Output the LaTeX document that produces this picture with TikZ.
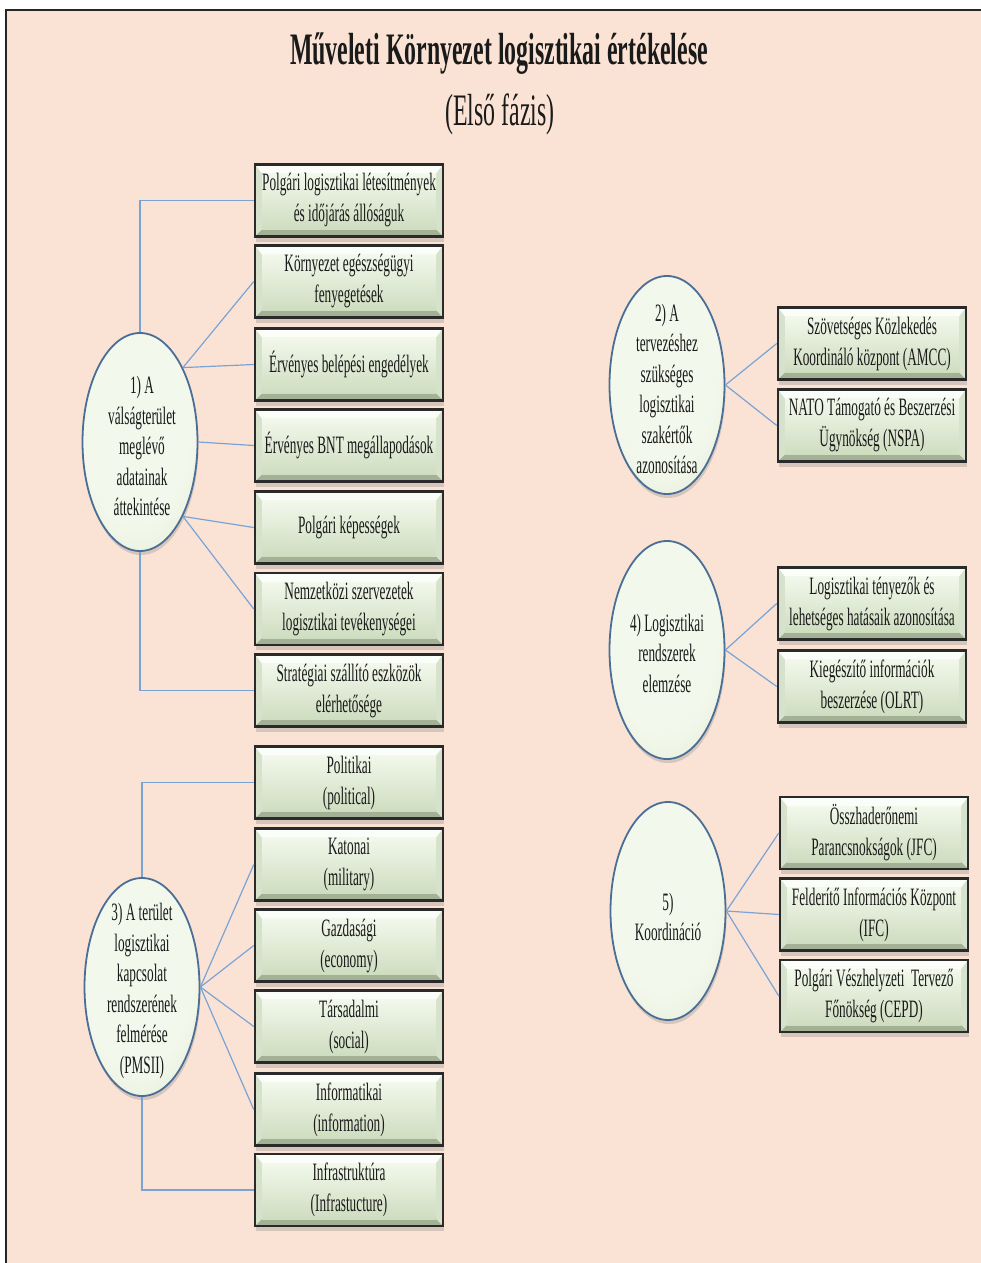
\documentclass[tikz,border=0pt]{standalone}
\usepackage{fontspec}
\setmainfont{Liberation Serif}[FakeStretch=0.53]
\usetikzlibrary{shapes.geometric, shadows, calc}
\definecolor{lgPeach}{HTML}{FAE3D5}
\definecolor{lgRim}{HTML}{2A2A2A}
\definecolor{lgBevLight}{HTML}{FBFDF8}
\definecolor{lgBevDark}{HTML}{A3B195}
\definecolor{lgBevSide}{HTML}{D6E2CB}
\definecolor{lgFaceTop}{HTML}{F2F8EB}
\definecolor{lgFaceBot}{HTML}{CEDDC0}
\definecolor{lgElIn}{HTML}{F3F8EC}
\definecolor{lgElMid}{HTML}{DDE9D0}
\definecolor{lgElOut}{HTML}{C3D5B0}
\definecolor{lgEdge}{HTML}{4A6E96}
\definecolor{lgLink}{HTML}{7AA3D5}
\definecolor{lgInk}{HTML}{1A1A1A}
\pgfdeclareradialshading{ellishade}{\pgfpoint{-4bp}{10bp}}{%
  color(0bp)=(lgElIn); color(24bp)=(lgElIn); color(42bp)=(lgElMid); color(52bp)=(lgElOut)}
\tikzset{
  pageframe/.style = {line width=2pt, black!85},
  ttl/.style       = {font=\bfseries\fontsize{45}{50}\selectfont, lgInk},
  subttl/.style    = {font=\fontsize{45}{50}\selectfont, lgInk},
  itembox/.style   = {rectangle, minimum width=188pt, minimum height=72pt, inner sep=0pt,
                      align=center, font=\fontsize{25}{31}\selectfont, text=lgInk,
                      fill=lgBevSide, draw=lgRim, line width=2.5pt,
                      drop shadow={shadow xshift=1pt, shadow yshift=-5pt, opacity=0.3},
                      path picture={
                        \coordinate (bnw) at (path picture bounding box.north west);
                        \coordinate (bne) at (path picture bounding box.north east);
                        \coordinate (bsw) at (path picture bounding box.south west);
                        \coordinate (bse) at (path picture bounding box.south east);
                        \fill[lgBevLight] (bnw) -- (bne) -- ([shift={(-7pt,-9pt)}]bne)
                                          -- ([shift={(7pt,-9pt)}]bnw) -- cycle;
                        \fill[lgBevDark] (bsw) -- (bse) -- ([shift={(-7pt,7pt)}]bse)
                                         -- ([shift={(7pt,7pt)}]bsw) -- cycle;
                        \shade[top color=lgFaceTop, bottom color=lgFaceBot]
                          ([shift={(7pt,-9pt)}]bnw) rectangle ([shift={(-7pt,7pt)}]bse);
                      }},
  elli/.style      = {ellipse, minimum width=115pt, minimum height=218pt, inner sep=0pt,
                      draw=lgEdge, line width=1.8pt, shading=ellishade, shade,
                      drop shadow={shadow xshift=1pt, shadow yshift=-4pt, opacity=0.3}},
  ellitext/.style  = {align=center, font=\fontsize{25}{30.5}\selectfont, text=lgInk},
  link/.style      = {lgLink, line width=1.2pt},
}

\begin{document}
\begin{tikzpicture}[x=1pt,y=-1pt]
  \useasboundingbox (0,0) rectangle (981,1263);
  % page
  \fill[white] (0,0) rectangle (981,1263);
  \fill[lgPeach] (6,10.5) rectangle (981,1263);
  \draw[pageframe] (6,1263) -- (6,10.5) -- (981,10.5);
  \node[ttl, anchor=base] (title) at (499,65) {Műveleti Környezet logisztikai értékelése};
  \node[subttl, anchor=base] (subtitle) at (500,125) {(Első fázis)};

  % 1) existing data of the crisis area
  \node[elli] (e1) at (140,442) {};
  \node[ellitext] (t1) at (142,446) {1) A\\válságterület\\meglévő\\adatainak\\áttekintése};
  \node[itembox] (a1) at (349,200.5) {Polgári logisztikai létesítmények\\és időjárás állóságuk};
  \node[itembox] (a2) at (349,281.5) {Környezet egészségügyi\\fenyegetések};
  \node[itembox] (a3) at (349,364.5) {Érvényes belépési engedélyek};
  \node[itembox] (a4) at (349,445.5) {Érvényes BNT megállapodások};
  \node[itembox] (a5) at (349,527.5) {Polgári képességek};
  \node[itembox] (a6) at (349,609) {Nemzetközi szervezetek\\logisztikai tevékenységei};
  \node[itembox] (a7) at (349,690.5) {Stratégiai szállító eszközök\\elérhetősége};
  \draw[link] (e1.north) |- (a1.west);
  \draw[link] (e1.60) -- (a2.west);
  \draw[link] (e1.60) -- (a3.west);
  \draw[link] (e1.east) -- (a4.west);
  \draw[link] (e1.-60) -- (a5.west);
  \draw[link] (e1.-60) -- (a6.west);
  \draw[link] (e1.south) |- (a7.west);

  % 3) PMSII
  \node[elli] (e3) at (142,987) {};
  \node[ellitext] (t3) at (142,991) {3) A terület\\logisztikai\\kapcsolat\\rendszerének\\felmérése\\(PMSII)};
  \node[itembox] (c1) at (349,782.5) {Politikai\\(political)};
  \node[itembox] (c2) at (349,864.5) {Katonai\\(military)};
  \node[itembox] (c3) at (349,945.5) {Gazdasági\\(economy)};
  \node[itembox] (c4) at (349,1026.5) {Társadalmi\\(social)};
  \node[itembox] (c5) at (349,1109.5) {Informatikai\\(information)};
  \node[itembox] (c6) at (349,1190) {Infrastruktúra\\(Infrastucture)};
  \draw[link] (e3.north) |- (c1.west);
  \draw[link] (e3.east) -- (c2.west);
  \draw[link] (e3.east) -- (c3.west);
  \draw[link] (e3.east) -- (c4.west);
  \draw[link] (e3.east) -- (c5.west);
  \draw[link] (e3.south) |- (c6.west);

  % 2) experts
  \node[elli] (e2) at (667,385) {};
  \node[ellitext] (t2) at (667,389) {2) A\\tervezéshez\\szükséges\\logisztikai\\szakértők\\azonosítása};
  \node[itembox] (b1) at (872,343.5) {Szövetséges Közlekedés\\Koordináló központ (AMCC)};
  \node[itembox] (b2) at (872,425.5) {NATO Támogató és Beszerzési\\Ügynökség (NSPA)};
  \draw[link] (e2.east) -- (b1.west);
  \draw[link] (e2.east) -- (b2.west);

  % 4) logistic systems
  \node[elli] (e4) at (667,650) {};
  \node[ellitext] (t4) at (667,653) {4) Logisztikai\\rendszerek\\elemzése};
  \node[itembox] (d1) at (872,603.5) {Logisztikai tényezők és\\lehetséges hatásaik azonosítása};
  \node[itembox] (d2) at (872,686.5) {Kiegészítő információk\\beszerzése (OLRT)};
  \draw[link] (e4.east) -- (d1.west);
  \draw[link] (e4.east) -- (d2.west);

  % 5) coordination
  \node[elli] (e5) at (668,911) {};
  \node[ellitext] (t5) at (668,917) {5)\\Koordináció};
  \node[itembox] (f1) at (874,833) {Összhaderőnemi\\Parancsnokságok (JFC)};
  \node[itembox] (f2) at (874,914.5) {Felderítő Információs Központ\\(IFC)};
  \node[itembox] (f3) at (874,996) {Polgári Vészhelyzeti\ \ Tervező\\Főnökség (CEPD)};
  \draw[link] (e5.east) -- (f1.west);
  \draw[link] (e5.east) -- (f2.west);
  \draw[link] (e5.east) -- (f3.west);
\end{tikzpicture}
\end{document}
